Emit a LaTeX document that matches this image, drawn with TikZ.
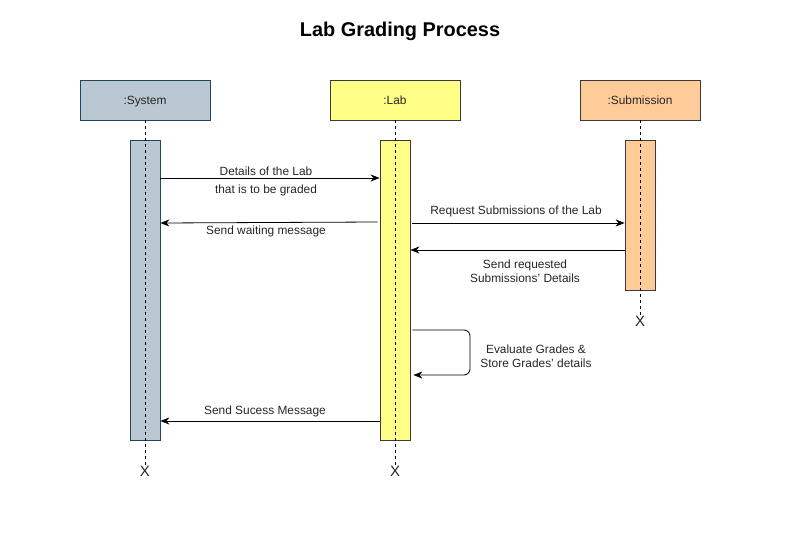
\documentclass[tikz,border=0pt]{standalone}
\usepackage{fontspec}
\setmainfont{Liberation Sans}
\usetikzlibrary{arrows.meta, positioning, calc}

\definecolor{sysfill}{HTML}{BAC8D3}
\definecolor{sysline}{HTML}{23445D}
\definecolor{labfill}{HTML}{FFFF88}
\definecolor{subfill}{HTML}{FFCC99}
\definecolor{darkline}{HTML}{36393D}

\begin{document}
\begin{tikzpicture}[
    x=1pt, y=-1pt,
    every node/.style={font=\fontsize{11.9}{14}\selectfont, text=black!85},
    head/.style = {draw, line width=0.8pt, minimum width=130pt, minimum height=40pt, inner sep=0pt,
                   text height=9pt, text depth=1pt},
    bar/.style = {draw, line width=0.8pt, minimum width=30pt, inner sep=0pt},
    lifeline/.style = {dash pattern=on 3pt off 3pt, line width=0.8pt},
    endx/.style = {font=\fontsize{15}{15}\selectfont, inner sep=1pt},
    msg/.style = {-{Stealth[length=9pt, width=7pt]}, line width=0.8pt},
    lbl/.style = {align=center, inner sep=0pt}
  ]
  \useasboundingbox (0,0) rectangle (800,551);

  % Title
  \node[font=\bfseries\fontsize{19.9}{22}\selectfont, text=black] (title) at (400,31) {Lab Grading Process};

  % Object heads
  \node[head, fill=sysfill, draw=sysline] (sys) at (145,100) {:System};
  \node[head, fill=labfill, draw=darkline] (lab) at (395,100) {:Lab};
  \node[head, fill=subfill, draw=darkline, minimum width=120pt] (sub) at (640,100) {:Submission};

  % Activation bars
  \node[bar, fill=sysfill, draw=sysline, minimum height=300pt, below=20pt of sys] (sysAct) {};
  \node[bar, fill=labfill, draw=darkline, minimum height=300pt, below=20pt of lab] (labAct) {};
  \node[bar, fill=subfill, draw=darkline, minimum height=150pt, below=20pt of sub] (subAct) {};

  % Destruction marks
  \node[endx] (sysEnd) at (145,471) {X};
  \node[endx] (labEnd) at (395,471) {X};
  \node[endx] (subEnd) at (640,321) {X};

  % Lifelines
  \draw[lifeline] (sys) -- (sysEnd);
  \draw[lifeline] (lab) -- (labEnd);
  \draw[lifeline] (sub) -- (subEnd);

  % Messages
  \draw[msg] (sysAct.east |- 0,178) -- (labAct.west |- 0,178);
  \node[lbl] (m1a) at (266,171) {Details of the Lab};
  \node[lbl] (m1b) at (266,190) {that is to be graded};

  \draw[msg] ($(labAct.west |- 0,222)+(-2,0)$) -- (sysAct.east |- 0,223);
  \node[lbl] (m2) at (266,231) {Send waiting message};

  \draw[msg] ($(labAct.east |- 0,223)+(2,0)$) -- (subAct.west |- 0,223);
  \node[lbl] (m3) at (516,211) {Request Submissions of the Lab};

  \draw[msg] (subAct.west |- 0,250) -- (labAct.east |- 0,250);
  \node[lbl] (m4) at (525,271) {Send requested\\Submissions' Details};

  % self call
  \draw[msg, rounded corners=6pt] ($(labAct.east |- 0,330)+(2,0)$) -- (470,330) -- (470,375)
       -- ($(labAct.east |- 0,375)+(3,0)$);
  \node[lbl] (m5) at (536,356) {Evaluate Grades \&\\Store Grades' details};

  \draw[msg] (labAct.west |- 0,421) -- (sysAct.east |- 0,421);
  \node[lbl] (m6) at (265,411) {Send Sucess Message};

\end{tikzpicture}
\end{document}
